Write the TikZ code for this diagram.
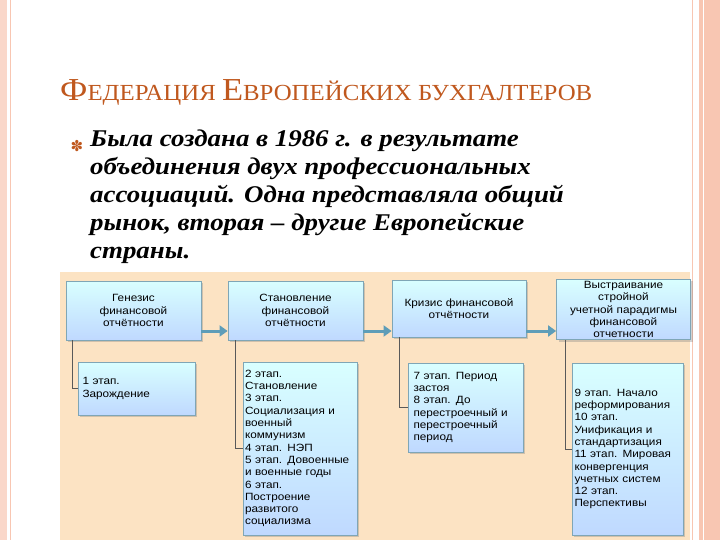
\documentclass[tikz,border=0pt]{standalone}
\usepackage{fontspec}
\setmainfont{Liberation Serif}
\newfontfamily\titlefont[FakeStretch=1.08]{Liberation Serif}
\newfontfamily\bodyfont[FakeStretch=1.12]{Liberation Serif}
\newfontfamily\boxfont[FakeStretch=1.12]{Liberation Sans}
\newfontfamily\symfont{DejaVu Sans}
\usetikzlibrary{shadows,arrows.meta}
\definecolor{titlec}{HTML}{C0581E}
\definecolor{beige}{HTML}{FCE3C3}
\definecolor{edgec}{HTML}{7FA6B6}
\definecolor{arrowc}{HTML}{5E9DB8}
\definecolor{stripe}{HTML}{F8C6B2}
\tikzset{
  x=1pt,y=-1pt,
  bluebox/.style={draw=edgec,line width=0.8pt,top color=cyan!15!white,bottom color=cyan!40!blue!25!white,
    drop shadow={shadow xshift=2pt,shadow yshift=-2pt,opacity=0.35},
    font=\boxfont\fontsize{10.5}{12.3}\selectfont,inner sep=2pt},
  flow/.style={draw=arrowc,line width=3pt,-{Triangle[length=8pt,width=11pt]}},
  link/.style={draw=gray!70!black,line width=0.6pt}
}
\begin{document}
\begin{tikzpicture}
\useasboundingbox (0,0) rectangle (720,540);
\fill[white] (0,0) rectangle (720,540);
% page frame
\fill[stripe!70] (0,0) rectangle (7,540);
\draw[stripe,line width=1pt] (10,0) -- (10,540);
\fill[stripe] (699,0) rectangle (720,540);
\draw[stripe,line width=1pt] (692,0) -- (692,540);
\draw[white,line width=1pt] (703,0) -- (703,540);
% title
\node[anchor=base west,text=titlec,inner sep=0,font=\titlefont] (title) at (60,101)
  {\fontsize{32}{32}\selectfont Ф\fontsize{23}{23}\selectfont ЕДЕРАЦИЯ \fontsize{32}{32}\selectfont Е\fontsize{23}{23}\selectfont ВРОПЕЙСКИХ БУХГАЛТЕРОВ};
% bullet
\node[text=titlec,inner sep=0,font=\symfont\fontsize{15}{15}\selectfont] (bul) at (77,146) {✽};
\node[anchor=north west,inner sep=0,align=left,font=\bodyfont\bfseries\itshape\fontsize{24}{28}\selectfont] (body) at (90,130)
  {Была создана в 1986 г. в результате\\объединения двух профессиональных\\ассоциаций. Одна представляла общий\\рынок, вторая – другие Европейские\\страны.};
% diagram background
\fill[beige] (60,272) rectangle (690,540);
% top boxes
\node[bluebox,minimum width=135pt,minimum height=59pt,align=center,text width=130pt] (b1) at (133.5,310.5) {Генезис\\финансовой\\отчётности};
\node[bluebox,minimum width=135pt,minimum height=59pt,align=center,text width=130pt] (b2) at (295.5,310.5) {Становление\\финансовой\\отчётности};
\node[bluebox,minimum width=134pt,minimum height=57pt,align=center,text width=130pt] (b3) at (459,308.5) {Кризис финансовой\\отчётности};
\node[bluebox,minimum width=133pt,minimum height=57pt,align=center,text width=130pt] (b4) at (623.5,309.5) {Выстраивание стройной\\учетной парадигмы\\финансовой\\отчетности};
\draw[flow] (b1.east |- 0,331) -- (b2.west |- 0,331);
\draw[flow] (b2.east |- 0,331) -- (b3.west |- 0,331);
\draw[flow] (b3.east |- 0,331) -- (b4.west |- 0,331);
% sub boxes
\node[bluebox,minimum width=117pt,minimum height=53pt,text width=108pt,align=left] (s1) at (136.5,388.5) {1 этап.\\Зарождение};
\node[bluebox,minimum width=114pt,minimum height=173pt,text width=110pt,align=left] (s2) at (300,448.5)
  {2 этап.\\Становление\\3 этап.\\Социализация и\\военный\\коммунизм\\4 этап. НЭП\\5 этап. Довоенные\\и военные годы\\6 этап.\\Построение\\развитого\\социализма};
\node[bluebox,minimum width=115pt,minimum height=89pt,text width=104pt,align=left] (s3) at (465.5,407.5)
  {7 этап. Период\\застоя\\8 этап. До\\перестроечный и\\перестроечный\\период};
\node[bluebox,minimum width=111pt,minimum height=172pt,text width=106pt,align=left] (s4) at (627.5,449)
  {9 этап. Начало\\реформирования\\10 этап.\\Унификация и\\стандартизация\\11 этап. Мировая\\конвергенция\\учетных систем\\12 этап.\\Перспективы};
% connectors
\draw[link] (b1.south -| 72,0) |- (s1.west);
\draw[link] (b2.south -| 235,0) |- (s2.west);
\draw[link] (b3.south -| 399,0) |- (s3.west);
\draw[link] (b4.south -| 565,0) |- (s4.west);
\end{tikzpicture}
\end{document}
